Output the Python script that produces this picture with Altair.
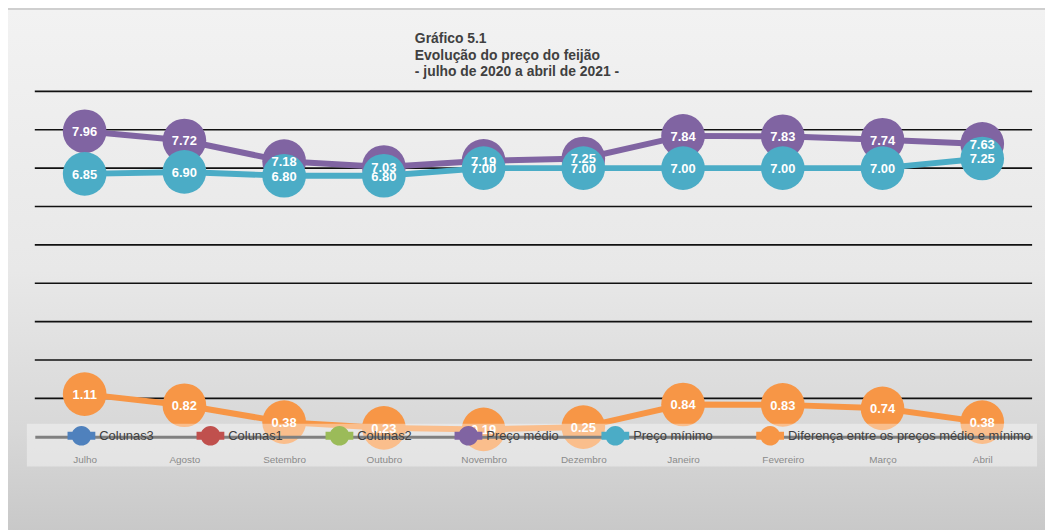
import altair as alt
import pandas as pd

meses = ["Julho", "Agosto", "Setembro", "Outubro", "Novembro",
         "Dezembro", "Janeiro", "Fevereiro", "Março", "Abril"]
preco_medio = [7.96, 7.72, 7.18, 7.03, 7.19, 7.25, 7.84, 7.83, 7.74, 7.63]
preco_minimo = [6.85, 6.90, 6.80, 6.80, 7.00, 7.00, 7.00, 7.00, 7.00, 7.25]
diferenca = [1.11, 0.82, 0.38, 0.23, 0.19, 0.25, 0.84, 0.83, 0.74, 0.38]

series_nomes = ["Colunas3", "Colunas1", "Colunas2", "Preço médio", "Preço mínimo",
                "Diferença entre os preços médio e mínimo"]
series_cores = ["#4F81BD", "#C0504D", "#9BBB59", "#8064A2", "#4BACC6", "#F79646"]
grade = [1, 2, 3, 4, 5, 6, 7, 8, 9]
titulo = ["Gráfico 5.1", "Evolução do preço do feijão", "- julho de 2020 a abril de 2021 -"]

desenhadas = [("Preço médio", preco_medio), ("Preço mínimo", preco_minimo),
              (series_nomes[5], diferenca)]

rows = []
for nome, vals in desenhadas:
    for m, v in zip(meses, vals):
        rows.append({"mes": m, "serie": nome, "valor": v})
df = pd.DataFrame(rows)

FONT = "Liberation Sans"
W, H = 1005, 348

x_axis = alt.Axis(title=None, labelAngle=0, ticks=False, tickSize=0, labelPadding=18,
                  labelFont=FONT, labelFontSize=10, labelColor="#8a8a8a",
                  domainColor="#808080", domainWidth=3, grid=False, zindex=1)
x_enc = alt.X("mes:N", sort=meses, scale=alt.Scale(type="point", padding=0.5), axis=x_axis)
y_scale = alt.Scale(domain=[0, 9], nice=False, zero=True)
y_enc = alt.Y("valor:Q", scale=y_scale, axis=None)
color_scale = alt.Scale(domain=series_nomes, range=series_cores)

sym_path = ("M-1,-0.29L1,-0.29L1,0.29L-1,0.29Z "
            "M0.71,0A0.71,0.71 0 1,1 -0.71,0A0.71,0.71 0 1,1 0.71,0Z")
legenda = alt.Legend(title=None, orient="none", legendX=33, legendY=333,
                     direction="horizontal", columns=6, columnPadding=43,
                     symbolType=sym_path, symbolSize=784, symbolStrokeWidth=0,
                     symbolOpacity=1, symbolFillColor="#000000",
                     labelFont=FONT, labelFontSize=13,
                     labelColor="#404040", labelOffset=4, labelLimit=400,
                     padding=0, zindex=2)
color_enc = alt.Color("serie:N", scale=color_scale, legend=legenda)

um = pd.DataFrame({"k": [0]})

fundo = alt.Chart(um).mark_rect(
    color=alt.Gradient(gradient="linear", x1=0, x2=0, y1=0, y2=1,
                       stops=[alt.GradientStop(color="#f2f2f2", offset=0),
                              alt.GradientStop(color="#e8e8e8", offset=0.5),
                              alt.GradientStop(color="#d8d8d8", offset=0.8),
                              alt.GradientStop(color="#c8c8c8", offset=1)]),
    stroke="#cfcfcf", strokeWidth=2
).encode(x=alt.value(-28), x2=alt.value(1020), y=alt.value(-83), y2=alt.value(445))

titulo_txt = alt.Chart(um).mark_text(
    text=titulo, font=FONT, fontSize=14, fontWeight="bold", color="#404040",
    align="left", baseline="top", lineHeight=17
).encode(x=alt.value(383), y=alt.value(-60))

grade_df = pd.DataFrame({"g": grade})
linhas_grade = alt.Chart(grade_df).mark_rule(color="#111111", strokeWidth=1.6).encode(
    y=alt.Y("g:Q", scale=y_scale, axis=None)
)

camadas = [fundo, titulo_txt, linhas_grade]
for nome, _ in desenhadas:
    base = alt.Chart(df).transform_filter(alt.datum.serie == nome)
    camadas.append(base.mark_line(strokeWidth=6).encode(x=x_enc, y=y_enc, color=color_enc))
    camadas.append(base.mark_circle(size=1936, opacity=1).encode(x=x_enc, y=y_enc, color=color_enc))

rotulos = alt.Chart(df).mark_text(font=FONT, fontSize=13, fontWeight="bold",
                                  color="white", align="center", baseline="middle",
                                  dy=1).encode(
    x=x_enc, y=y_enc, text=alt.Text("valor:Q", format=".2f"))
camadas.append(rotulos)

caixa = alt.Chart(um).mark_rect(color="white", opacity=0.38).encode(
    x=alt.value(-8), x2=alt.value(1010), y=alt.value(335), y2=alt.value(378))
camadas.append(caixa)

chart = alt.layer(*camadas).properties(
    width=W, height=H,
    autosize=alt.AutoSizeParams(type="none"),
    padding={"left": 27, "top": 82, "right": 13, "bottom": 92},
    background="white",
).configure_view(stroke=None)

chart.save("out.html", embed_options={"renderer": "svg", "actions": False})
